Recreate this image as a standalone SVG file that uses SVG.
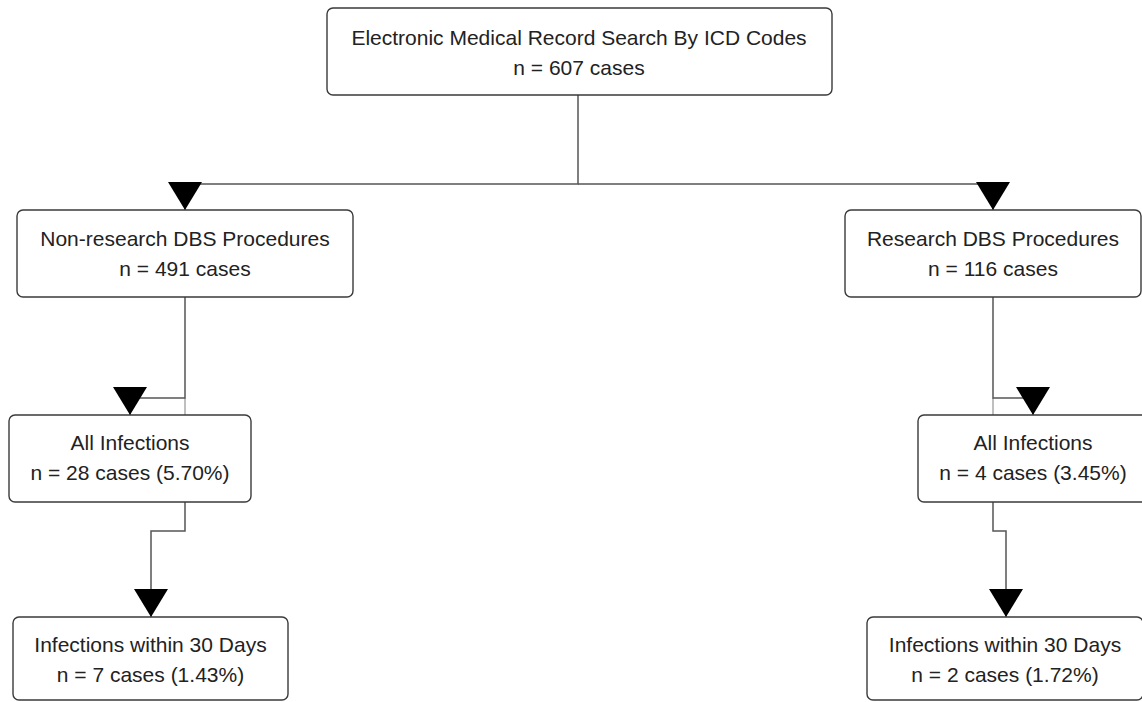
<svg xmlns="http://www.w3.org/2000/svg" width="1142" height="702" viewBox="0 0 1142 702">
<style>
.box{fill:#fff;stroke:#3a3a3a;stroke-width:1.4}
.t{font-family:"Liberation Sans",Arial,sans-serif;font-size:21px;fill:#222;text-anchor:middle}
.c{fill:none;stroke:#555;stroke-width:1.5}
.c2{fill:none;stroke:#aaa;stroke-width:1.5}
</style>
<defs>
<marker id="arr" viewBox="0 0 28 34" refX="28" refY="17" markerWidth="28" markerHeight="34" markerUnits="userSpaceOnUse" orient="auto">
<path d="M0,0 L28,17 L0,34 z" fill="#000"/>
</marker>
</defs>
<rect width="1142" height="702" fill="#fff"/>
<g id="connectors">
<path class="c" d="M578,95 V184 H185 V210" marker-end="url(#arr)"/>
<path class="c" d="M578,184 H993 V210" marker-end="url(#arr)"/>
<path class="c2" d="M185,398 V415"/>
<path class="c" d="M185,297 V398 H130 V415" marker-end="url(#arr)"/>
<path class="c2" d="M993,398 V415"/>
<path class="c" d="M993,297 V398 H1033 V415" marker-end="url(#arr)"/>
<path class="c" d="M185,502 V531 H151 V617" marker-end="url(#arr)"/>
<path class="c" d="M993,502 V531 H1006 V617" marker-end="url(#arr)"/>
</g>
<g id="n_emr">
<rect class="box" x="327" y="8" width="505" height="87" rx="6"/>
<text class="t" x="579" y="45">Electronic Medical Record Search By ICD Codes</text>
<text class="t" x="579" y="75">n = 607 cases</text>
</g>
<g id="n_nonresearch">
<rect class="box" x="17" y="210" width="336" height="87" rx="6"/>
<text class="t" x="185" y="246">Non-research DBS Procedures</text>
<text class="t" x="185" y="276">n = 491 cases</text>
</g>
<g id="n_research">
<rect class="box" x="845" y="210" width="296" height="87" rx="6"/>
<text class="t" x="993" y="246">Research DBS Procedures</text>
<text class="t" x="993" y="276">n = 116 cases</text>
</g>
<g id="n_inf_left">
<rect class="box" x="9" y="415" width="242" height="87" rx="6"/>
<text class="t" x="130" y="450">All Infections</text>
<text class="t" x="130" y="480">n = 28 cases (5.70%)</text>
</g>
<g id="n_inf_right">
<rect class="box" x="918" y="415" width="230" height="87" rx="6"/>
<text class="t" x="1033" y="450">All Infections</text>
<text class="t" x="1033" y="480">n = 4 cases (3.45%)</text>
</g>
<g id="n_30_left">
<rect class="box" x="13" y="617" width="275" height="83" rx="6"/>
<text class="t" x="150.5" y="652">Infections within 30 Days</text>
<text class="t" x="150.5" y="682">n = 7 cases (1.43%)</text>
</g>
<g id="n_30_right">
<rect class="box" x="867" y="617" width="276" height="83" rx="6"/>
<text class="t" x="1005" y="652">Infections within 30 Days</text>
<text class="t" x="1005" y="682">n = 2 cases (1.72%)</text>
</g>
</svg>
